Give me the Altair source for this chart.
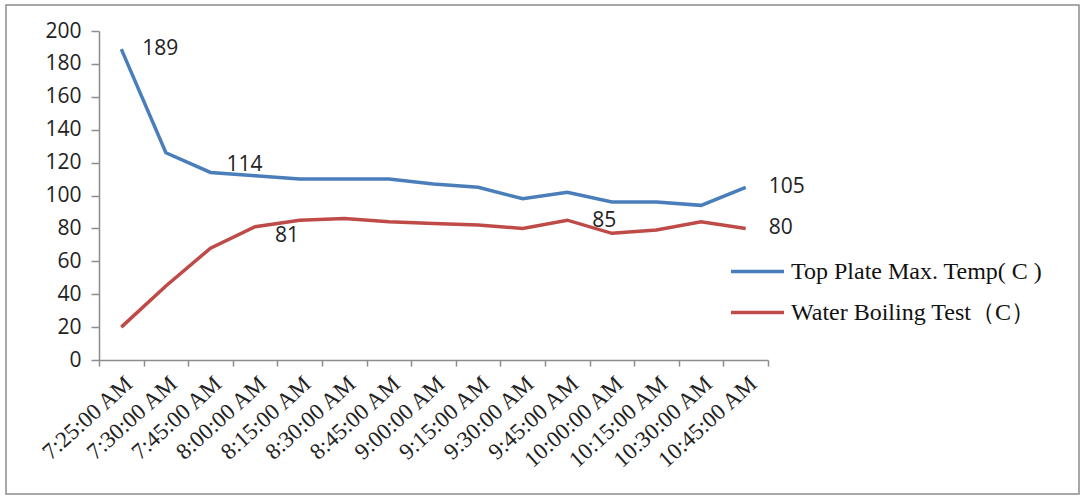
import altair as alt
import pandas as pd

times = ["7:25:00 AM", "7:30:00 AM", "7:45:00 AM", "8:00:00 AM", "8:15:00 AM",
         "8:30:00 AM", "8:45:00 AM", "9:00:00 AM", "9:15:00 AM", "9:30:00 AM",
         "9:45:00 AM", "10:00:00 AM", "10:15:00 AM", "10:30:00 AM", "10:45:00 AM"]
top_plate = [189, 126, 114, 112, 110, 110, 110, 107, 105, 98, 102, 96, 96, 94, 105]
water_boil = [20, 45, 68, 81, 85, 86, 84, 83, 82, 80, 85, 77, 79, 84, 80]
series_names = ["Top Plate Max. Temp( C )", "Water Boiling Test（C）"]
series_colors = ["#4A7EBB", "#BE4B48"]
y_ticks = [0, 20, 40, 60, 80, 100, 120, 140, 160, 180, 200]

rows = []
for t, a, b in zip(times, top_plate, water_boil):
    rows.append({"time": t, "series": series_names[0], "value": a})
    rows.append({"time": t, "series": series_names[1], "value": b})
df = pd.DataFrame(rows)

x_enc = alt.X(
    "time:N", sort=times,
    scale=alt.Scale(type="band", paddingInner=0, paddingOuter=0),
    axis=alt.Axis(title=None, labelAngle=-42, tickBand="extent", tickSize=6,
                  labelFont="Liberation Serif", labelFontSize=23, labelColor="#222",
                  labelPadding=6, labelOverlap=False, labelAlign="right",
                  labelBaseline="top", labelLimit=0),
)
y_enc = alt.Y(
    "value:Q", scale=alt.Scale(domain=[0, 200], nice=False),
    axis=alt.Axis(title=None, values=y_ticks, tickSize=8, labelPadding=10,
                  labelOverlap=False, labelFont="Open Sans", labelFontSize=21,
                  labelColor="#222"),
)
color_enc = alt.Color(
    "series:N", scale=alt.Scale(domain=series_names, range=series_colors),
    legend=alt.Legend(title=None, orient="none", legendX=630, legendY=212,
                      symbolType="stroke", symbolSize=2809, symbolStrokeWidth=3.5,
                      labelFont="Liberation Serif", labelFontSize=24, labelColor="#111",
                      labelOffset=5, rowPadding=-15, padding=0, labelLimit=0),
)

base = alt.Chart(df)
lines = base.mark_line(strokeWidth=3.5).encode(x=x_enc, y=y_enc, color=color_enc)


def label_layer(series, time, dx, dy):
    return base.transform_filter(
        (alt.datum.series == series) & (alt.datum.time == time)
    ).mark_text(align="left", baseline="middle", dx=dx, dy=dy,
                font="Open Sans", fontSize=21, color="#222").encode(
        x=x_enc, y=y_enc, text="value:Q")


labels = [
    label_layer(series_names[0], "7:25:00 AM", 21, 0),
    label_layer(series_names[0], "7:45:00 AM", 16, -7),
    label_layer(series_names[0], "10:45:00 AM", 23, 0),
    label_layer(series_names[1], "8:00:00 AM", 20, 9),
    label_layer(series_names[1], "9:45:00 AM", 25, 1),
    label_layer(series_names[1], "10:45:00 AM", 23, 0),
]

border = alt.Chart(alt.Data(values=[{"k": 1}])).mark_rect(
    fill=None, stroke="#8c8c8c", strokeWidth=1.5).encode(
    x=alt.value(-93), x2=alt.value(980), y=alt.value(-26), y2=alt.value(463))

chart = alt.layer(border, lines, *labels).properties(
    width=669, height=329,
    autosize=alt.AutoSizeParams(type="none"),
    padding={"left": 99, "top": 31, "right": 314, "bottom": 137},
).configure_view(stroke=None).configure_axis(
    grid=False, domainColor="#8c8c8c", tickColor="#8c8c8c",
    domainWidth=1.5, tickWidth=1.5,
)

chart.save("out.html", embed_options={"renderer": "svg", "actions": False})
